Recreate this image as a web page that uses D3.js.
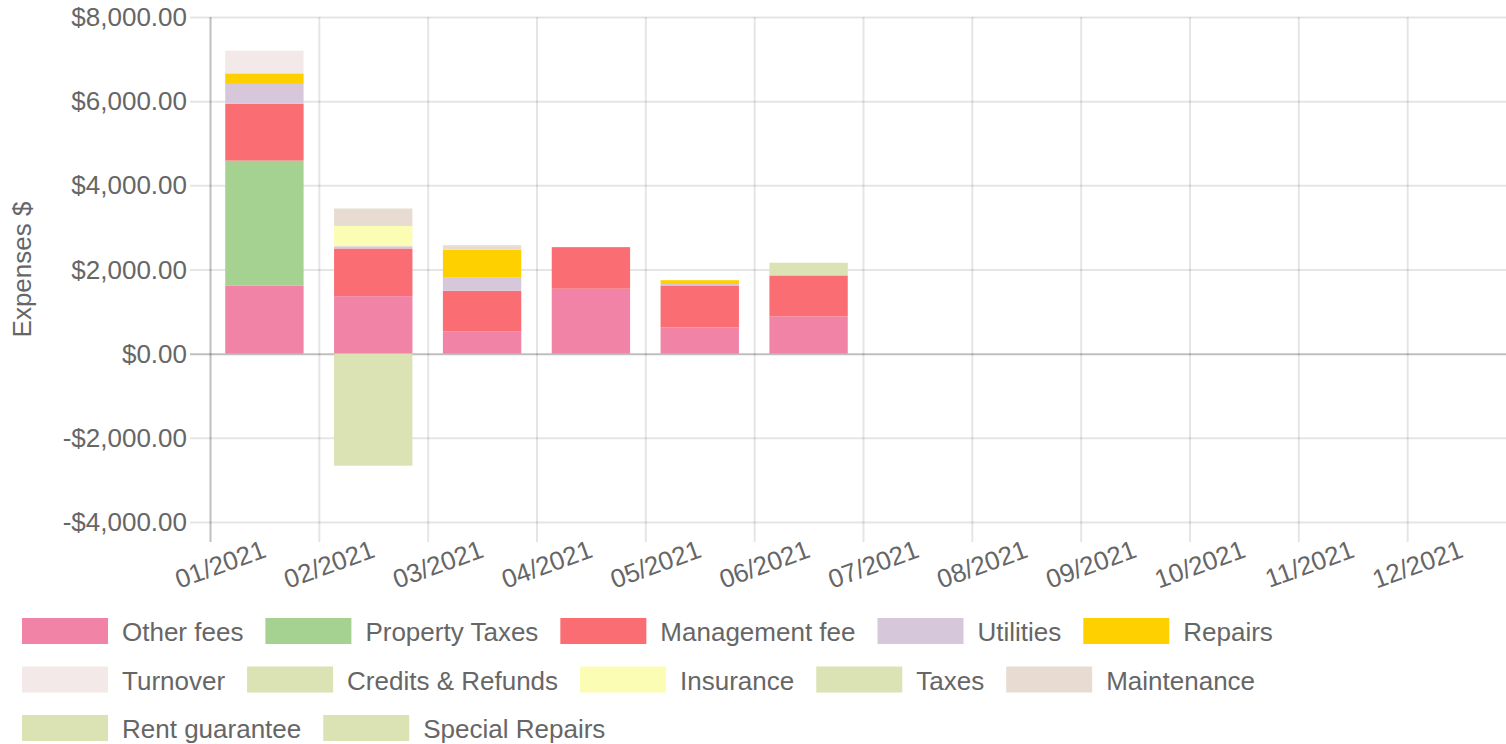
<!DOCTYPE html>
<html>
<head>
<meta charset="utf-8">
<script src="https://cdn.jsdelivr.net/npm/d3@7"></script>
<style>
  body { margin: 0; background: #fff; }
  svg text { font-family: "Liberation Sans", Arial, Helvetica, sans-serif; fill: #666; }
</style>
</head>
<body>
<svg id="chart" width="1506" height="744"></svg>
<script>
// months on the x axis
const months = ["01/2021", "02/2021", "03/2021", "04/2021", "05/2021", "06/2021",
                "07/2021", "08/2021", "09/2021", "10/2021", "11/2021", "12/2021"];

// one array per expense type
const otherFees      = [1621, 1366, 532, 1543, 624, 885, 0, 0, 0, 0, 0, 0];
const propertyTaxes  = [2967, 0, 0, 0, 0, 0, 0, 0, 0, 0, 0, 0];
const managementFee  = [1347, 1133, 964, 988, 997, 974, 0, 0, 0, 0, 0, 0];
const utilities      = [474, 54, 322, 0, 35, 0, 0, 0, 0, 0, 0, 0];
const repairs        = [252, 0, 651, 0, 90, 0, 0, 0, 0, 0, 0, 0];
const turnover       = [539, 0, 0, 0, 0, 0, 0, 0, 0, 0, 0, 0];
const creditsRefunds = [0, -2662, 0, 0, 0, 0, 0, 0, 0, 0, 0, 0];
const insurance      = [0, 483, 0, 0, 0, 0, 0, 0, 0, 0, 0, 0];
const taxes          = [0, 0, 0, 0, 0, 301, 0, 0, 0, 0, 0, 0];
const maintenance    = [0, 413, 109, 0, 0, 0, 0, 0, 0, 0, 0, 0];
const rentGuarantee  = [0, 0, 0, 0, 0, 0, 0, 0, 0, 0, 0, 0];
const specialRepairs = [0, 0, 0, 0, 0, 0, 0, 0, 0, 0, 0, 0];

const seriesNames = ["Other fees", "Property Taxes", "Management fee", "Utilities", "Repairs",
                     "Turnover", "Credits & Refunds", "Insurance", "Taxes", "Maintenance",
                     "Rent guarantee", "Special Repairs"];
const seriesValues = [otherFees, propertyTaxes, managementFee, utilities, repairs,
                      turnover, creditsRefunds, insurance, taxes, maintenance,
                      rentGuarantee, specialRepairs];
const seriesColors = ["#f083a6", "#a5d191", "#f96d73", "#d6c8da", "#ffd000",
                      "#f4e9e9", "#dbe2b4", "#fbfdb5", "#dbe2b4", "#e8dcd2",
                      "#dbe2b4", "#dbe2b4"];
const yTicks = [-4000, -2000, 0, 2000, 4000, 6000, 8000];

const svg = d3.select("#chart");
const plot = {left: 210, right: 1516, top: 17, bottom: 522};

// rows for d3.stack
const rows = months.map((m, i) => {
  const r = {month: m};
  seriesNames.forEach((n, k) => r[n] = seriesValues[k][i]);
  return r;
});
const stacked = d3.stack()
  .keys(seriesNames)
  .order(d3.stackOrderNone)
  .offset(d3.stackOffsetDiverging)(rows);

const x = d3.scaleBand().domain(months).range([plot.left, plot.right]).padding(0);
const y = d3.scaleLinear().domain([-4000, 8000]).range([plot.bottom, plot.top]);

const money = v => (v < 0 ? "-$" : "$") + d3.format(",.2f")(Math.abs(v));

// horizontal grid + y tick marks
svg.append("g")
  .selectAll("line")
  .data(yTicks)
  .join("line")
    .attr("x1", plot.left - 20)
    .attr("x2", plot.right)
    .attr("y1", d => y(d) + 0.5)
    .attr("y2", d => y(d) + 0.5)
    .attr("stroke", d => d === 0 ? "rgba(0,0,0,0.25)" : "rgba(0,0,0,0.1)")
    .attr("stroke-width", 2);

// vertical grid at band edges
const edges = months.map(m => x(m)).concat([plot.right]);
svg.append("g")
  .selectAll("line")
  .data(edges)
  .join("line")
    .attr("x1", d => d + 0.5)
    .attr("x2", d => d + 0.5)
    .attr("y1", plot.top)
    .attr("y2", plot.bottom + 20)
    .attr("stroke", (d, i) => i === 0 ? "rgba(0,0,0,0.25)" : "rgba(0,0,0,0.1)")
    .attr("stroke-width", 2);

// y labels
svg.append("g")
  .selectAll("text")
  .data(yTicks)
  .join("text")
    .attr("x", plot.left - 23)
    .attr("y", d => y(d))
    .attr("dy", "0.35em")
    .attr("text-anchor", "end")
    .style("font-size", "26px")
    .text(money);

// y title
svg.append("text")
  .attr("transform", "translate(31," + ((plot.top + plot.bottom) / 2) + ") rotate(-90)")
  .attr("text-anchor", "middle")
  .style("font-size", "26px")
  .text("Expenses $");

// x labels, rotated
svg.append("g")
  .selectAll("text")
  .data(months)
  .join("text")
    .attr("transform", d => "translate(" + (x(d) + x.bandwidth() / 2) + "," + (plot.bottom + 26) + ") rotate(-20)")
    .attr("dy", "0.35em")
    .attr("text-anchor", "end")
    .style("font-size", "26px")
    .text(d => d);

// bars
const barW = x.bandwidth() * 0.72;
svg.append("g")
  .selectAll("g")
  .data(stacked)
  .join("g")
    .attr("fill", (d, i) => seriesColors[i])
  .selectAll("rect")
  .data(d => d.filter(s => s[1] !== s[0]))
  .join("rect")
    .attr("x", d => x(d.data.month) + (x.bandwidth() - barW) / 2)
    .attr("width", barW)
    .attr("y", d => y(Math.max(d[0], d[1])))
    .attr("height", d => Math.abs(y(d[0]) - y(d[1])));

// legend, left aligned, wraps
const legend = svg.append("g");
let lx = 22, ly = 618;
const boxW = 86, boxH = 26, rowH = 48.5, maxX = 1490;
seriesNames.forEach((name, i) => {
  const t = legend.append("text")
    .style("font-size", "26px")
    .attr("dy", "0.35em")
    .text(name);
  const tw = t.node().getComputedTextLength();
  if (lx + boxW + 14 + tw > maxX) {
    lx = 22;
    ly += rowH;
  }
  legend.append("rect")
    .attr("x", lx).attr("y", ly)
    .attr("width", boxW).attr("height", boxH)
    .attr("fill", seriesColors[i]);
  t.attr("x", lx + boxW + 14).attr("y", ly + boxH / 2 + 1);
  lx += boxW + 14 + tw + 22;
});
</script>
</body>
</html>
